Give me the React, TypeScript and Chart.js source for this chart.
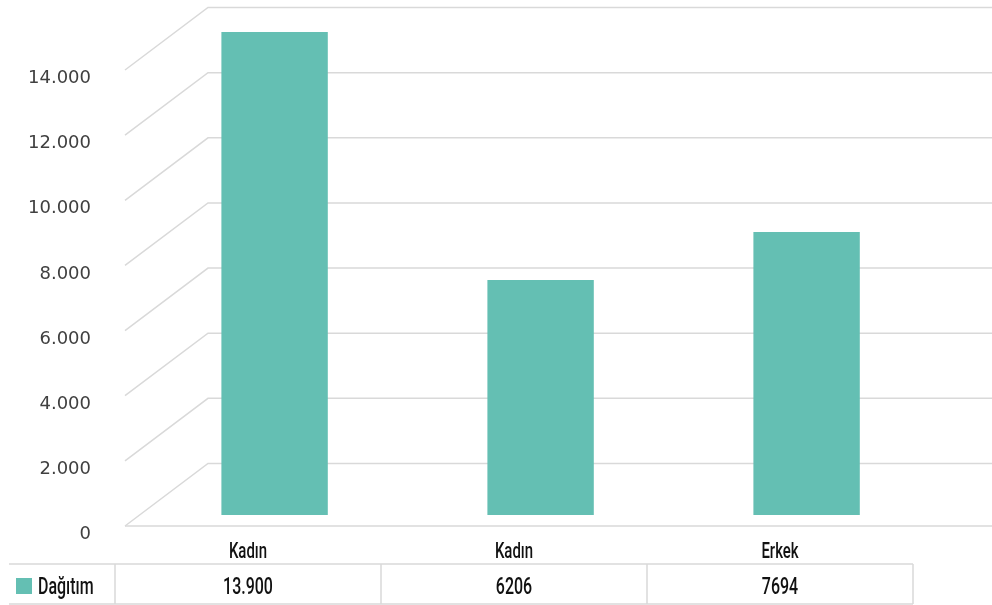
import React, { useEffect, useRef } from "react";
import { Chart, registerables } from "chart.js";

Chart.register(...registerables);

const categories = ["Kadın", "Kadın", "Erkek"];
const seriesName = "Dağıtım";
const values = [13900, 6206, 7694];
const tableLabels = ["13.900", "6206", "7694"];
const yTicks = [0, 2000, 4000, 6000, 8000, 10000, 12000, 14000];

const BAR_COLOR = "#64BFB3";
const GRID_COLOR = "#d9d9d9";
const TEXT_FONT = "Roboto, 'Noto Sans', sans-serif";
const SQUEEZE = 0.68;
const BAR_BASE = -1086;

const fmt = (v: number) => (v === 0 ? "0" : String(v).replace(/\B(?=(\d{3})+(?!\d))/g, "."));

function drawNarrow(ctx: CanvasRenderingContext2D, text: string, x: number, y: number, align: CanvasTextAlign, size: number) {
  ctx.save();
  ctx.translate(x, y);
  ctx.scale(SQUEEZE, 1);
  ctx.font = `500 ${size}px ${TEXT_FONT}`;
  ctx.textAlign = align;
  ctx.textBaseline = "alphabetic";
  ctx.fillStyle = "#111";
  ctx.fillText(text, 0, 0);
  ctx.restore();
}

const wallPlugin = {
  id: "wall3d",
  beforeDatasetsDraw(chart: any) {
    const { ctx, chartArea } = chart;
    const y = chart.scales.y;
    const fx = chartArea.left + 10;
    const dx = 83;
    const dy = -62.5;
    ctx.save();
    ctx.strokeStyle = GRID_COLOR;
    ctx.lineWidth = 1.5;
    for (const v of yTicks) {
      const py = y.getPixelForValue(v);
      ctx.beginPath();
      ctx.moveTo(fx, py);
      ctx.lineTo(fx + dx, py + dy);
      ctx.lineTo(chart.width, py + dy);
      ctx.stroke();
    }
    const p0 = y.getPixelForValue(0);
    ctx.beginPath();
    ctx.moveTo(fx, p0);
    ctx.lineTo(chart.width, p0);
    ctx.stroke();
    ctx.restore();
  },
};

const tablePlugin = {
  id: "dataTable",
  afterDraw(chart: any) {
    const { ctx } = chart;
    const x = chart.scales.x;
    // category labels on the x axis
    categories.forEach((c, i) => {
      drawNarrow(ctx, c, x.getPixelForValue(i), x.top + 32, "center", 22);
    });
    const top = x.bottom;
    const bottom = top + 40;
    const left = x.left;
    const colW = (x.right - x.left) / categories.length;
    const right = x.right;
    ctx.save();
    ctx.strokeStyle = GRID_COLOR;
    ctx.lineWidth = 1.5;
    ctx.beginPath();
    ctx.moveTo(9, top);
    ctx.lineTo(right, top);
    ctx.moveTo(9, bottom);
    ctx.lineTo(right, bottom);
    for (let i = 0; i <= categories.length; i++) {
      const cx = left + i * colW;
      ctx.moveTo(cx, top);
      ctx.lineTo(cx, bottom);
    }
    ctx.stroke();
    ctx.fillStyle = BAR_COLOR;
    ctx.fillRect(16, top + 14, 16, 16);
    ctx.restore();
    drawNarrow(ctx, seriesName, 38, top + 30, "left", 23.5);
    tableLabels.forEach((t, i) => {
      drawNarrow(ctx, t, x.getPixelForValue(i), top + 30, "center", 23.5);
    });
  },
};

export default function App() {
  const ref = useRef<HTMLCanvasElement>(null);
  useEffect(() => {
    const canvas = ref.current!;
    const chart = new Chart(canvas, {
      type: "bar",
      data: {
        labels: categories,
        datasets: [
          {
            label: seriesName,
            data: values.map((v, i) => ({ x: i, y: v })) as any,
            xAxisID: "xb",
            yAxisID: "yb",
            backgroundColor: BAR_COLOR,
            borderWidth: 0,
            base: BAR_BASE,
            categoryPercentage: 0.5,
            barPercentage: 0.8,
            clip: false as any,
          } as any,
        ],
      },
      options: {
        responsive: false,
        animation: false,
        devicePixelRatio: 1,
        layout: { padding: { top: 70, right: 79, bottom: 41, left: 0 } },
        plugins: { legend: { display: false }, tooltip: { enabled: false } },
        scales: {
          x: {
            type: "category",
            position: "bottom",
            offset: true,
            grid: { display: false, drawTicks: false },
            border: { display: false },
            ticks: { display: false },
            afterFit: (s: any) => {
              s.height = 38;
            },
          },
          y: {
            type: "linear",
            position: "left",
            min: 0,
            max: 14000,
            grid: { display: false, drawTicks: false },
            border: { display: false },
            ticks: {
              color: "#404040",
              font: { family: "'DejaVu Sans', sans-serif", size: 18 },
              padding: 24,
              labelOffset: 8.5,
              callback: (v: any) => fmt(Number(v)),
            },
            afterBuildTicks: (s: any) => {
              s.ticks = yTicks.map((v) => ({ value: v }));
            },
            afterFit: (s: any) => {
              s.width = 115;
            },
          },
          xb: {
            type: "linear",
            display: false,
            offset: false,
            min: -0.6,
            max: 2.4,
            grid: { offset: false },
            afterBuildTicks: (s: any) => {
              s.ticks = categories.map((_, i) => ({ value: i }));
            },
          },
          yb: {
            type: "linear",
            display: false,
            position: "left",
            min: -1427,
            max: 12721,
          },
        } as any,
      },
      plugins: [wallPlugin, tablePlugin],
    });
    return () => chart.destroy();
  }, []);
  return (
    <div style={{ position: "fixed", left: 0, top: 0, width: 992, height: 605, background: "#fff" }}>
      <canvas ref={ref} width={992} height={605} style={{ display: "block", width: 992, height: 605 }} />
    </div>
  );
}
